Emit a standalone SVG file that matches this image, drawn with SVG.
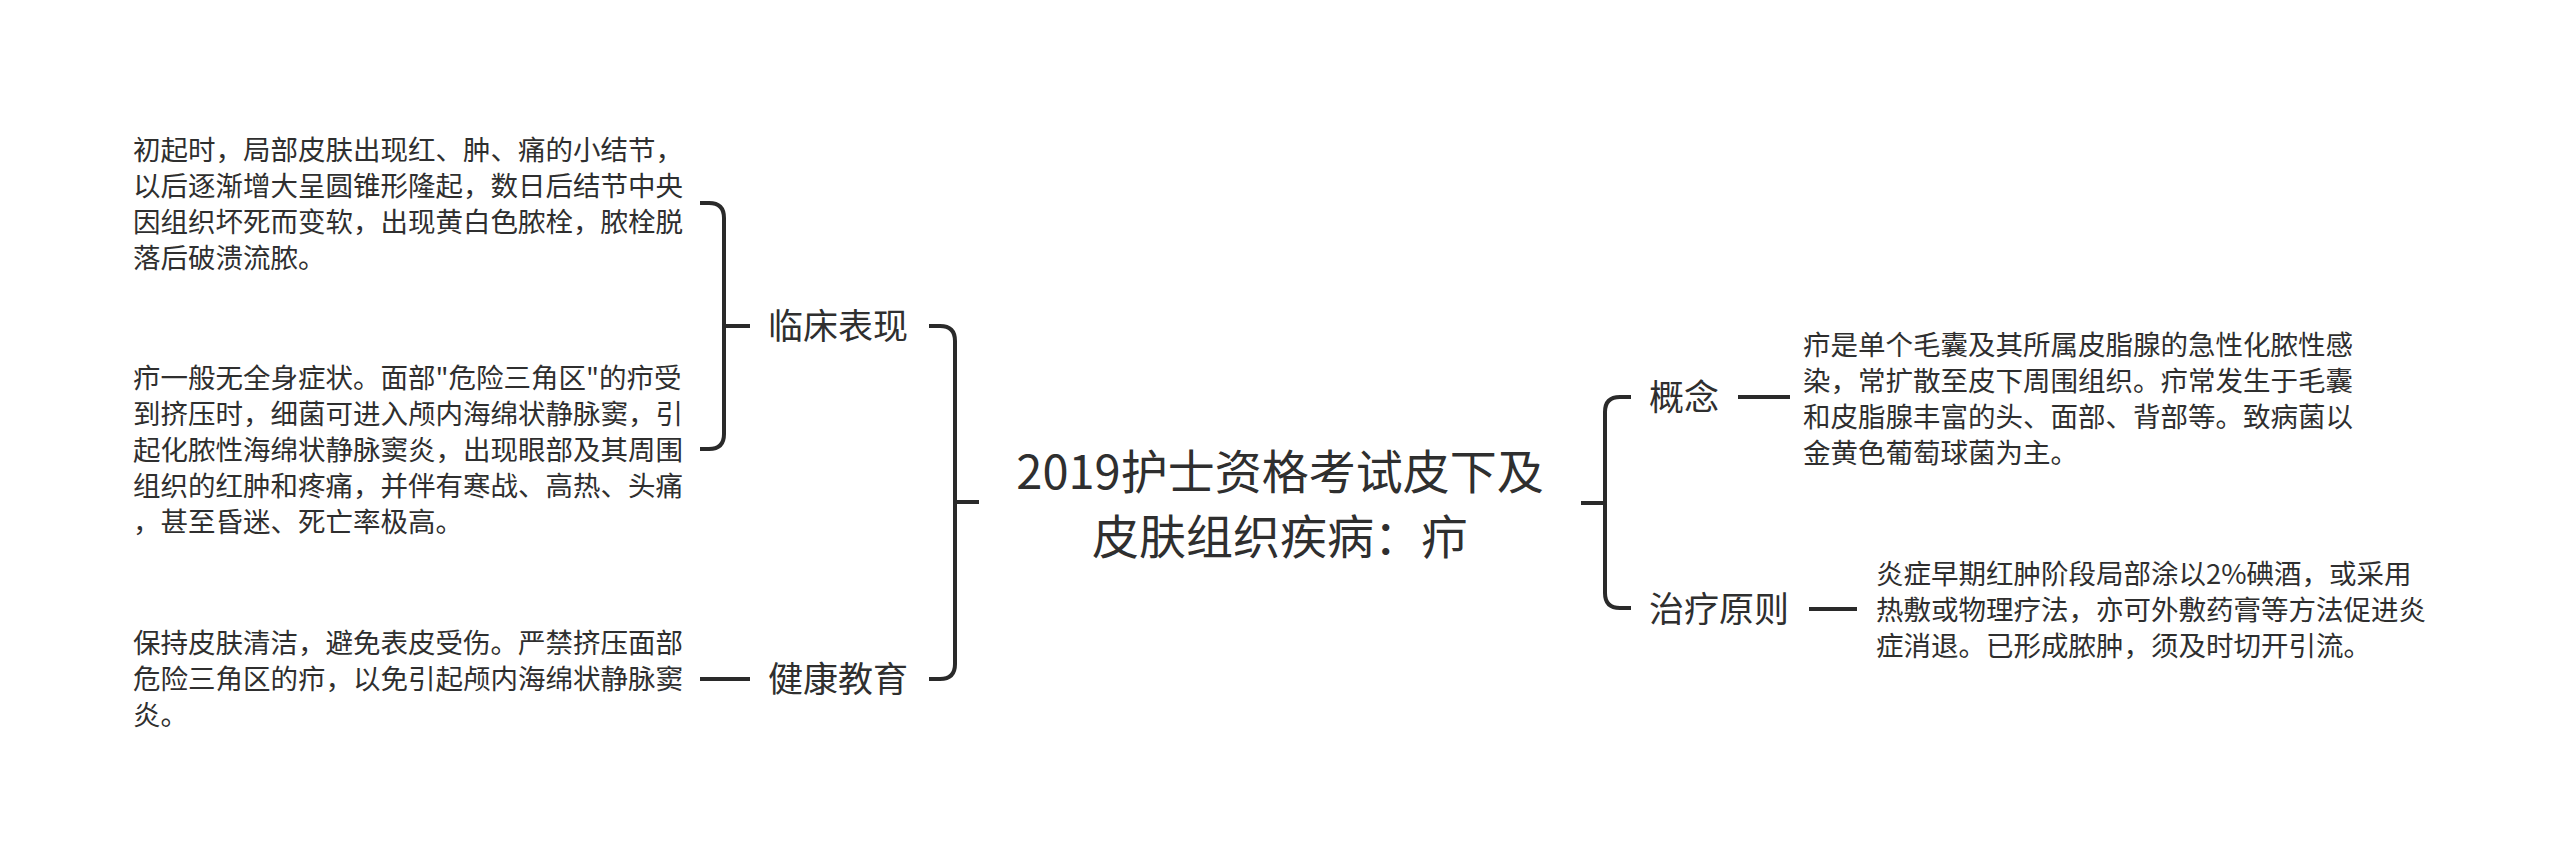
<svg xmlns="http://www.w3.org/2000/svg" width="2560" height="865" viewBox="0 0 2560 865">
<style>
text{font-family:"Noto Sans CJK SC","Noto Sans",sans-serif;fill:#2f2f2f}
.t{font-size:47px}
.s{font-size:35px}
.b{font-size:27.5px}
.c{fill:none;stroke:#2a2a2a;stroke-width:4;stroke-linecap:butt;stroke-linejoin:round}
</style>
<rect width="2560" height="865" fill="#ffffff"/>
<g id="connectors">
<path class="c" d="M700,203 H709 Q724,203 724,218 V434 Q724,449 709,449 H700"/>
<path class="c" d="M724,326 H750"/>
<path class="c" d="M700,679 H750"/>
<path class="c" d="M929,326 H940 Q955,326 955,341 V664 Q955,679 940,679 H929"/>
<path class="c" d="M955,502 H979"/>
<path class="c" d="M1581,503 H1605"/>
<path class="c" d="M1631,397 H1620 Q1605,397 1605,412 V593 Q1605,608 1620,608 H1631"/>
<path class="c" d="M1738,397 H1790"/>
<path class="c" d="M1809,609 H1857"/>
</g>
<g id="root">
<text class="t" x="1280" y="489" text-anchor="middle">2019护士资格考试皮下及</text>
<text class="t" x="1280" y="554" text-anchor="middle">皮肤组织疾病：疖</text>
</g>
<g id="n-clinical"><text class="s" x="768" y="339">临床表现</text></g>
<g id="n-health"><text class="s" x="768" y="692">健康教育</text></g>
<g id="n-concept"><text class="s" x="1649" y="410">概念</text></g>
<g id="n-treat"><text class="s" x="1649" y="622">治疗原则</text></g>
<g id="d-clinical-1">
<text class="b" x="133" y="159.5">初起时，局部皮肤出现红、肿、痛的小结节，</text>
<text class="b" x="133" y="195.5">以后逐渐增大呈圆锥形隆起，数日后结节中央</text>
<text class="b" x="133" y="231.5">因组织坏死而变软，出现黄白色脓栓，脓栓脱</text>
<text class="b" x="133" y="267.5">落后破溃流脓。</text>
</g>
<g id="d-clinical-2">
<text class="b" x="133" y="387.5">疖一般无全身症状。面部"危险三角区"的疖受</text>
<text class="b" x="133" y="423.5">到挤压时，细菌可进入颅内海绵状静脉窦，引</text>
<text class="b" x="133" y="459.5">起化脓性海绵状静脉窦炎，出现眼部及其周围</text>
<text class="b" x="133" y="495.5">组织的红肿和疼痛，并伴有寒战、高热、头痛</text>
<text class="b" x="133" y="531.5">，甚至昏迷、死亡率极高。</text>
</g>
<g id="d-health">
<text class="b" x="133" y="652.5">保持皮肤清洁，避免表皮受伤。严禁挤压面部</text>
<text class="b" x="133" y="688.5">危险三角区的疖，以免引起颅内海绵状静脉窦</text>
<text class="b" x="133" y="724.5">炎。</text>
</g>
<g id="d-concept">
<text class="b" x="1803" y="354.5">疖是单个毛囊及其所属皮脂腺的急性化脓性感</text>
<text class="b" x="1803" y="390.5">染，常扩散至皮下周围组织。疖常发生于毛囊</text>
<text class="b" x="1803" y="426.5">和皮脂腺丰富的头、面部、背部等。致病菌以</text>
<text class="b" x="1803" y="462.5">金黄色葡萄球菌为主。</text>
</g>
<g id="d-treat">
<text class="b" x="1876" y="583.5">炎症早期红肿阶段局部涂以2%碘酒，或采用</text>
<text class="b" x="1876" y="619.5">热敷或物理疗法，亦可外敷药膏等方法促进炎</text>
<text class="b" x="1876" y="655.5">症消退。已形成脓肿，须及时切开引流。</text>
</g>
</svg>
